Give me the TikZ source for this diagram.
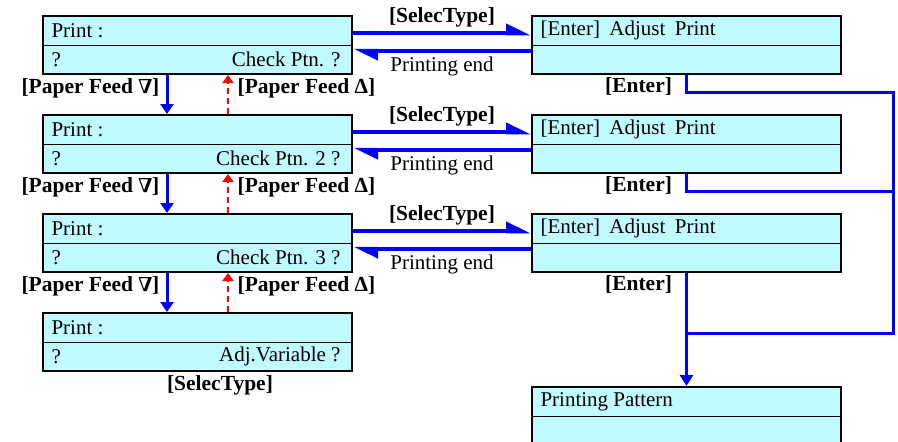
\documentclass[tikz,border=0pt]{standalone}
\usepackage{fontspec}
\setmainfont{Liberation Serif}
\usepackage{graphicx}
\usetikzlibrary{arrows.meta,calc,positioning}

\definecolor{lcdcyan}{RGB}{192,250,255}
\newcommand{\feeddn}{\raisebox{\depth}{\scalebox{1}[-1]{Δ}}}

\begin{document}
\begin{tikzpicture}[x=1pt,y=-1pt,font=\fontsize{21}{23}\selectfont,
    panel/.style={draw,line width=2pt,fill=lcdcyan,minimum width=309pt,minimum height=58pt,inner sep=0pt},
    btn/.style={text=black,font=\fontsize{21.5}{23}\selectfont\bfseries},
    feeddown/.style={blue,line width=3pt,-{Triangle[length=10pt,width=13pt]}},
    feedup/.style={red,line width=2.6pt,dash pattern=on 6pt off 4pt,-{Triangle[length=8pt,width=11pt]}},
    selline/.style={blue,line width=4.5pt,-{Triangle[left,length=20pt,width=18pt]}},
    enterline/.style={blue,line width=3pt}]
    \clip (0,0) rectangle (898,442);

    % left column: print menu
    \foreach \i/\y/\txt in {1/45/Check Ptn. ?,2/144/Check Ptn. 2 ?,3/243/Check Ptn. 3 ?,4/342/Adj.Variable ?} {
        \node[panel] (p\i) at (197.5,\y) {};
        \draw[line width=0.8pt] (p\i.west) -- (p\i.east);
        \path (p\i.west) ++(6,-14.5) node[anchor=west] {Print :};
        \path (p\i.west) ++(6,14.5) node[anchor=west] {?};
        \path (p\i.east) ++(-9,14.5) node[anchor=east] {\txt};
    }

    % right column: adjust print
    \foreach \i/\y in {1/45,2/144,3/243} {
        \node[panel] (r\i) at (686.5,\y) {};
        \draw[line width=0.8pt] (r\i.west) -- (r\i.east);
        \path (r\i.west) ++(6,-14.5) node[anchor=west] {[Enter]\hspace{0.45em}Adjust\hspace{0.45em}Print};
        \node[btn,anchor=east] at ($(r\i.south)+(-11,11)$) {[Enter]};
    }
    \node[panel] (pp) at (686.5,416) {};
    \draw[line width=0.8pt] (pp.west) -- (pp.east);
    \path (pp.west) ++(6,-14.5) node[anchor=west] {Printing Pattern};

    % paper feed
    \foreach \a/\b in {1/2,2/3,3/4} {
        \draw[feeddown] ([xshift=-30.5pt]p\a.south) -- ([xshift=-30.5pt]p\b.north)
            node[pos=0.35,left,btn,xshift=-3pt] {[Paper Feed \feeddn]};
        \draw[feedup] ([xshift=30.5pt]p\b.north) -- ([xshift=30.5pt]p\a.south)
            node[pos=0.65,right,btn,xshift=5pt] {[Paper Feed Δ]};
    }

    % selectype / printing end
    \foreach \i in {1,2,3} {
        \draw[selline] ([yshift=12pt]p\i.east) -- ([yshift=12pt]r\i.west)
            node[midway,above,btn] {[SelecType]};
        \draw[selline] ([yshift=-6pt]r\i.west) -- ([yshift=-6pt]p\i.east)
            node[midway,below,text=black] {Printing end};
    }
    \node[btn,below=0pt of p4.south,xshift=22.5pt] (sel4) {[SelecType]};

    % enter
    \coordinate (railtop) at (893,92);
    \coordinate (railmid) at (893,191);
    \coordinate (railbot) at (893,333);
    \coordinate (join) at (686.5,333);
    \draw[enterline] (r1.south) |- (railtop) -- (railbot) -- (join);
    \draw[enterline] (r2.south) |- (railmid);
    \draw[enterline,-{Triangle[length=11pt,width=13pt]}] (r3.south) -- (pp.north);
\end{tikzpicture}
\end{document}
